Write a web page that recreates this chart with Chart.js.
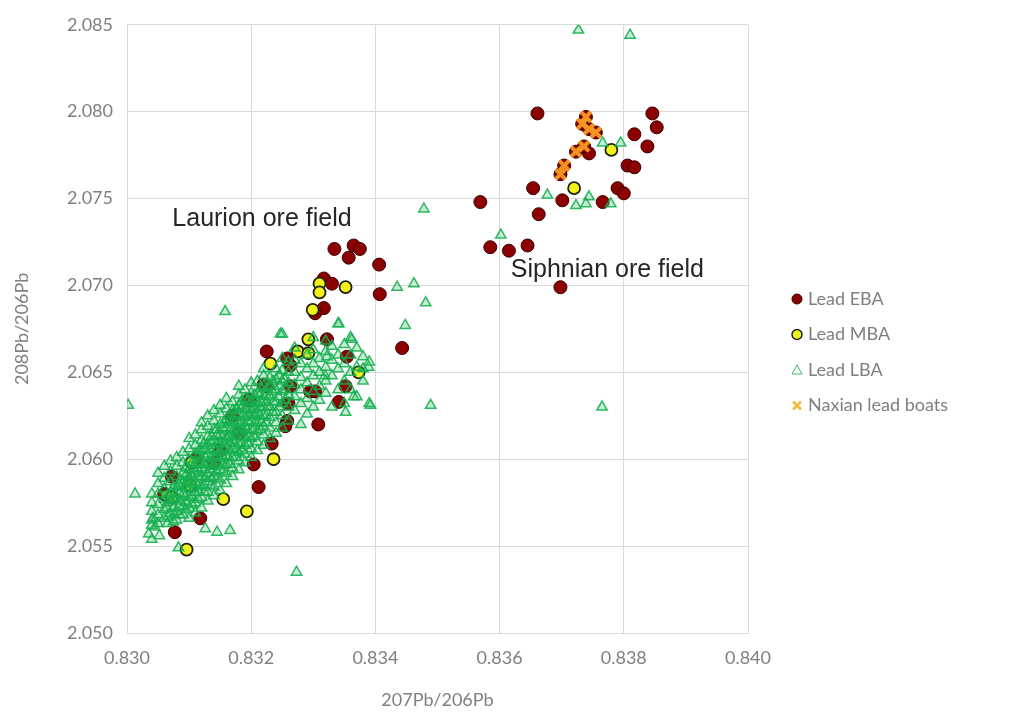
<!DOCTYPE html>
<html>
<head>
<meta charset="utf-8">
<script src="https://cdn.jsdelivr.net/npm/chart.js@4.4.1/dist/chart.umd.min.js"></script>
<style>
  html, body { margin: 0; padding: 0; background: #fff; }
</style>
</head>
<body>
<canvas id="myChart" width="1018" height="720"></canvas>
<script>
// series names (legend order)
const seriesNames = ['Lead EBA', 'Lead MBA', 'Lead LBA', 'Naxian lead boats'];

// axis ticks
const xTicks = [0.830, 0.832, 0.834, 0.836, 0.838, 0.840];
const yTicks = [2.050, 2.055, 2.060, 2.065, 2.070, 2.075, 2.080, 2.085];

// [207Pb/206Pb, 208Pb/206Pb]
const leadEBA = [
  [0.83661,2.0799],[0.83846,2.0799],[0.83853,2.0791],[0.83817,2.0787],[0.83838,2.0780],
  [0.83806,2.0769],[0.83817,2.0768],[0.83790,2.0756],[0.83800,2.0753],[0.83766,2.0748],
  [0.83654,2.0756],[0.83701,2.0749],[0.83663,2.0741],[0.83569,2.0748],[0.83744,2.0776],
  [0.83585,2.0722],[0.83615,2.0720],[0.83645,2.0723],[0.83698,2.0699],
  [0.83739,2.0797],[0.83733,2.0793],[0.83744,2.0790],[0.83755,2.0788],[0.83723,2.0777],
  [0.83736,2.0780],[0.83704,2.0769],[0.83698,2.0764],
  [0.83334,2.0721],[0.83365,2.0723],[0.83375,2.0721],[0.83357,2.0716],[0.83406,2.0712],
  [0.83317,2.0704],[0.83330,2.0701],[0.83407,2.0695],[0.83317,2.0687],[0.83303,2.0684],
  [0.83322,2.0669],[0.83443,2.0664],[0.83225,2.0662],[0.83258,2.0658],[0.83263,2.0654],
  [0.83354,2.0659],[0.83352,2.0642],[0.83295,2.0639],[0.83303,2.0639],[0.83341,2.0633],
  [0.83263,2.0642],[0.83225,2.0642],[0.83260,2.0632],[0.83198,2.0634],[0.83308,2.0620],
  [0.83258,2.0622],[0.83255,2.0619],[0.83233,2.0609],[0.83212,2.0584],[0.83072,2.0590],
  [0.83077,2.0558],[0.83118,2.0566],[0.83204,2.0597],[0.83220,2.0643],[0.83196,2.0634],
  [0.83060,2.0580],[0.83150,2.0605],[0.83180,2.0615],[0.83140,2.0598],[0.83170,2.0625],
  [0.83110,2.0600]
];

const leadMBA = [
  [0.83780,2.0778],[0.83720,2.0756],[0.83310,2.0701],[0.83310,2.0696],[0.83352,2.0699],
  [0.83299,2.0686],[0.83292,2.0669],[0.83275,2.0662],[0.83292,2.0661],[0.83231,2.0655],
  [0.83373,2.0650],[0.83236,2.0600],[0.83193,2.0570],[0.83096,2.0548],[0.83104,2.0598],
  [0.83064,2.0579],[0.83072,2.0578],[0.83102,2.0585],[0.83155,2.0577]
];

const leadLBA = [
  // scattered
  [0.83002,2.0631],[0.83013,2.0580],[0.83158,2.0685],[0.83273,2.0535],[0.83765,2.0630],
  [0.83727,2.0847],[0.83810,2.0844],[0.83478,2.0744],[0.83602,2.0729],[0.83677,2.0752],
  [0.83723,2.0746],[0.83739,2.0747],[0.83744,2.0751],[0.83779,2.0747],[0.83766,2.0782],
  [0.83795,2.0782],[0.83435,2.0699],[0.83462,2.0701],[0.83448,2.0677],[0.83481,2.0690],
  [0.83489,2.0631],[0.83341,2.0678],[0.83247,2.0672],[0.83362,2.0669],[0.83389,2.0653],
  [0.83392,2.0631],[0.83352,2.0627],[0.83319,2.0648],[0.83322,2.0659],[0.83365,2.0636],
  [0.83083,2.0549],[0.83166,2.0559],[0.83145,2.0558],[0.83126,2.0560],[0.83045,2.0561],
  [0.83042,2.0566],[0.83035,2.0557],[0.83040,2.0554],[0.83052,2.0556],
  // dense Laurion band
  [0.8304,2.0565],[0.8304,2.0570],[0.8304,2.0575],[0.8304,2.0562],[0.8304,2.0580],
  [0.8305,2.0568],[0.8305,2.0574],[0.8305,2.0580],[0.8305,2.0586],[0.8305,2.0563],[0.8305,2.0592],
  [0.8306,2.0571],[0.8306,2.0577],[0.8306,2.0583],[0.8306,2.0589],[0.8306,2.0596],[0.8306,2.0566],
  [0.8307,2.0569],[0.8307,2.0576],[0.8307,2.0581],[0.8307,2.0587],[0.8307,2.0593],[0.8307,2.0599],
  [0.8308,2.0570],[0.8308,2.0578],[0.8308,2.0584],[0.8308,2.0590],[0.8308,2.0596],[0.8308,2.0601],[0.8308,2.0565],
  [0.8309,2.0573],[0.8309,2.0580],[0.8309,2.0586],[0.8309,2.0592],[0.8309,2.0598],[0.8309,2.0604],[0.8309,2.0568],
  [0.8310,2.0572],[0.8310,2.0578],[0.8310,2.0583],[0.8310,2.0589],[0.8310,2.0594],[0.8310,2.0600],[0.8310,2.0606],[0.8310,2.0612],[0.8310,2.0566],
  [0.8311,2.0575],[0.8311,2.0581],[0.8311,2.0587],[0.8311,2.0592],[0.8311,2.0597],[0.8311,2.0603],[0.8311,2.0608],[0.8311,2.0614],[0.8311,2.0569],
  [0.8312,2.0578],[0.8312,2.0584],[0.8312,2.0590],[0.8312,2.0595],[0.8312,2.0600],[0.8312,2.0605],[0.8312,2.0611],[0.8312,2.0617],[0.8312,2.0572],[0.8312,2.0621],
  [0.8313,2.0581],[0.8313,2.0587],[0.8313,2.0592],[0.8313,2.0598],[0.8313,2.0603],[0.8313,2.0608],[0.8313,2.0613],[0.8313,2.0619],[0.8313,2.0625],[0.8313,2.0576],
  [0.8314,2.0584],[0.8314,2.0590],[0.8314,2.0596],[0.8314,2.0601],[0.8314,2.0606],[0.8314,2.0611],[0.8314,2.0617],[0.8314,2.0622],[0.8314,2.0628],[0.8314,2.0579],
  [0.8315,2.0588],[0.8315,2.0594],[0.8315,2.0599],[0.8315,2.0604],[0.8315,2.0609],[0.8315,2.0614],[0.8315,2.0620],[0.8315,2.0626],[0.8315,2.0631],[0.8315,2.0582],
  [0.8316,2.0592],[0.8316,2.0597],[0.8316,2.0602],[0.8316,2.0607],[0.8316,2.0612],[0.8316,2.0618],[0.8316,2.0623],[0.8316,2.0629],[0.8316,2.0635],[0.8316,2.0586],
  [0.8317,2.0595],[0.8317,2.0601],[0.8317,2.0606],[0.8317,2.0611],[0.8317,2.0616],[0.8317,2.0622],[0.8317,2.0628],[0.8317,2.0633],[0.8317,2.0590],
  [0.8318,2.0599],[0.8318,2.0604],[0.8318,2.0609],[0.8318,2.0615],[0.8318,2.0620],[0.8318,2.0626],[0.8318,2.0631],[0.8318,2.0637],[0.8318,2.0594],[0.8318,2.0642],
  [0.8319,2.0603],[0.8319,2.0608],[0.8319,2.0613],[0.8319,2.0619],[0.8319,2.0624],[0.8319,2.0629],[0.8319,2.0635],[0.8319,2.0640],[0.8319,2.0598],
  [0.8320,2.0606],[0.8320,2.0612],[0.8320,2.0617],[0.8320,2.0622],[0.8320,2.0628],[0.8320,2.0633],[0.8320,2.0638],[0.8320,2.0644],[0.8320,2.0601],
  [0.8321,2.0610],[0.8321,2.0616],[0.8321,2.0621],[0.8321,2.0627],[0.8321,2.0632],[0.8321,2.0638],[0.8321,2.0645],[0.8321,2.0605],
  [0.8322,2.0614],[0.8322,2.0619],[0.8322,2.0625],[0.8322,2.0630],[0.8322,2.0636],[0.8322,2.0642],[0.8322,2.0648],[0.8322,2.0608],[0.8322,2.0652],
  [0.8323,2.0618],[0.8323,2.0624],[0.8323,2.0630],[0.8323,2.0636],[0.8323,2.0642],[0.8323,2.0647],[0.8323,2.0612],
  [0.8324,2.0621],[0.8324,2.0627],[0.8324,2.0633],[0.8324,2.0640],[0.8324,2.0646],[0.8324,2.0652],[0.8324,2.0615],
  [0.8325,2.0625],[0.8325,2.0632],[0.8325,2.0639],[0.8325,2.0645],[0.8325,2.0651],[0.8325,2.0658],[0.8325,2.0672],[0.8325,2.0618],
  [0.8326,2.0630],[0.8326,2.0637],[0.8326,2.0644],[0.8326,2.0650],[0.8326,2.0656],[0.8326,2.0622],
  [0.8327,2.0628],[0.8327,2.0636],[0.8327,2.0643],[0.8327,2.0650],[0.8327,2.0657],[0.8327,2.0664],
  [0.8328,2.0632],[0.8328,2.0640],[0.8328,2.0647],[0.8328,2.0655],[0.8328,2.0620],
  [0.8329,2.0635],[0.8329,2.0644],[0.8329,2.0652],[0.8329,2.0660],[0.8329,2.0626],
  [0.8330,2.0639],[0.8330,2.0648],[0.8330,2.0655],[0.8330,2.0663],[0.8330,2.0630],[0.8330,2.0670],
  [0.8331,2.0642],[0.8331,2.0650],[0.8331,2.0658],[0.8331,2.0634],
  [0.8332,2.0645],[0.8332,2.0653],[0.8332,2.0662],[0.8332,2.0638],[0.8332,2.0668],
  [0.8333,2.0648],[0.8333,2.0657],[0.8333,2.0630],[0.8333,2.0665],
  [0.8334,2.0652],[0.8334,2.0660],[0.8334,2.0640],[0.8334,2.0678],
  [0.8335,2.0645],[0.8335,2.0655],[0.8335,2.0666],[0.8335,2.0632],
  [0.8336,2.0650],[0.8336,2.0660],[0.8336,2.0670],[0.8336,2.0640],
  [0.8337,2.0653],[0.8337,2.0664],[0.8337,2.0636],
  [0.8338,2.0652],[0.8338,2.0659],[0.8338,2.0645],
  [0.8339,2.0632],[0.8339,2.0656],
  // packed core of the band
  [0.83065,2.0563],[0.83066,2.0567],[0.83064,2.0572],[0.83065,2.0575],[0.83067,2.0579],
  [0.83075,2.0564],[0.83076,2.0568],[0.83074,2.0572],[0.83075,2.0577],[0.83076,2.0580],[0.83075,2.0584],
  [0.83085,2.0568],[0.83084,2.0573],[0.83086,2.0576],[0.83085,2.0580],[0.83084,2.0585],[0.83086,2.0588],
  [0.83095,2.0571],[0.83096,2.0575],[0.83094,2.0579],[0.83095,2.0584],[0.83096,2.0587],[0.83095,2.0591],[0.83094,2.0595],
  [0.83105,2.0574],[0.83104,2.0578],[0.83106,2.0583],[0.83105,2.0586],[0.83104,2.0590],[0.83106,2.0595],[0.83105,2.0598],
  [0.83115,2.0577],[0.83116,2.0581],[0.83114,2.0585],[0.83115,2.0590],[0.83116,2.0593],[0.83114,2.0597],[0.83115,2.0602],[0.83116,2.0605],
  [0.83125,2.0581],[0.83124,2.0585],[0.83126,2.0589],[0.83125,2.0594],[0.83124,2.0597],[0.83126,2.0601],[0.83125,2.0606],[0.83124,2.0609],
  [0.83135,2.0585],[0.83136,2.0589],[0.83134,2.0594],[0.83135,2.0597],[0.83136,2.0601],[0.83134,2.0605],[0.83135,2.0610],[0.83136,2.0613],
  [0.83145,2.0589],[0.83144,2.0593],[0.83146,2.0597],[0.83145,2.0602],[0.83144,2.0605],[0.83146,2.0609],[0.83145,2.0614],[0.83144,2.0617],
  [0.83155,2.0593],[0.83156,2.0597],[0.83154,2.0601],[0.83155,2.0606],[0.83156,2.0609],[0.83154,2.0613],[0.83155,2.0618],[0.83156,2.0621],
  [0.83165,2.0597],[0.83164,2.0601],[0.83166,2.0605],[0.83165,2.0610],[0.83164,2.0613],[0.83166,2.0617],[0.83165,2.0622],[0.83164,2.0625],
  [0.83175,2.0601],[0.83176,2.0605],[0.83174,2.0609],[0.83175,2.0614],[0.83176,2.0617],[0.83174,2.0621],[0.83175,2.0626],[0.83176,2.0629],
  [0.83185,2.0605],[0.83184,2.0609],[0.83186,2.0613],[0.83185,2.0618],[0.83184,2.0621],[0.83186,2.0625],[0.83185,2.0630],[0.83184,2.0633],
  [0.83195,2.0609],[0.83196,2.0613],[0.83194,2.0617],[0.83195,2.0622],[0.83196,2.0625],[0.83194,2.0629],[0.83195,2.0634],
  [0.83205,2.0613],[0.83204,2.0617],[0.83206,2.0621],[0.83205,2.0626],[0.83204,2.0629],[0.83206,2.0633],[0.83205,2.0637],
  [0.83215,2.0617],[0.83216,2.0621],[0.83214,2.0625],[0.83215,2.0630],[0.83216,2.0633],[0.83214,2.0637],[0.83215,2.0641],
  [0.83225,2.0621],[0.83224,2.0625],[0.83226,2.0630],[0.83225,2.0633],[0.83224,2.0637],[0.83226,2.0641],
  [0.83235,2.0627],[0.83236,2.0633],[0.83234,2.0639],[0.83235,2.0645],
  [0.83245,2.0630],[0.83244,2.0636],[0.83246,2.0642],[0.83245,2.0648],
  [0.83255,2.0634],[0.83256,2.0640],[0.83254,2.0646]
];

const naxianBoats = [
  [0.83739,2.0797],[0.83733,2.0793],[0.83744,2.0790],[0.83755,2.0788],[0.83723,2.0777],
  [0.83736,2.0780],[0.83704,2.0769],[0.83698,2.0764]
];

// text labels on the plot
const fieldLabels = ['Laurion ore field', 'Siphnian ore field'];
const fieldLabelAt = [[0.83073, 2.0738], [0.83618, 2.0709]];

const toXY = arr => arr.map(p => ({ x: p[0], y: p[1] }));

const ctx = document.getElementById('myChart');

// legend + annotations drawn by hand
const sidePlugin = {
  id: 'sidePlugin',
  afterDraw(chart) {
    const c = chart.ctx;
    const xs = chart.scales.x, ys = chart.scales.y;
    c.save();

    // ore field labels
    c.font = '25px "Liberation Sans", Arial, sans-serif';
    c.fillStyle = '#262626';
    c.textBaseline = 'middle';
    c.textAlign = 'left';
    fieldLabels.forEach((t, i) => {
      c.fillText(t, xs.getPixelForValue(fieldLabelAt[i][0]), ys.getPixelForValue(fieldLabelAt[i][1]));
    });

    // legend
    c.font = '18px Lato, sans-serif';
    seriesNames.forEach((name, i) => {
      const y = 299 + i * 35.5;
      const mx = 797;
      c.lineWidth = 1;
      if (i === 0) {
        c.beginPath(); c.arc(mx, y, 5, 0, Math.PI * 2);
        c.fillStyle = '#8b0000'; c.fill(); c.strokeStyle = '#3a0000'; c.stroke();
      } else if (i === 1) {
        c.beginPath(); c.arc(mx, y, 5, 0, Math.PI * 2);
        c.fillStyle = '#f2f21a'; c.fill(); c.lineWidth = 1.5; c.strokeStyle = '#222'; c.stroke();
      } else if (i === 2) {
        c.beginPath(); c.moveTo(mx, y - 5); c.lineTo(mx + 5, y + 4); c.lineTo(mx - 5, y + 4); c.closePath();
        c.strokeStyle = '#3cb371'; c.stroke();
      } else {
        c.beginPath(); c.moveTo(mx - 4, y - 4); c.lineTo(mx + 4, y + 4); c.moveTo(mx + 4, y - 4); c.lineTo(mx - 4, y + 4);
        c.lineWidth = 2.5; c.strokeStyle = '#f5b942'; c.stroke();
      }
      c.fillStyle = '#7f7f7f';
      c.fillText(name, 808, y);
    });
    c.restore();
  }
};

new Chart(ctx, {
  type: 'scatter',
  data: {
    datasets: [
      {
        label: seriesNames[3],
        data: toXY(naxianBoats),
        pointStyle: 'crossRot',
        pointRadius: 7,
        borderWidth: 4,
        borderColor: 'rgba(245,155,35,0.95)',
        order: 0
      },
      {
        label: seriesNames[2],
        data: toXY(leadLBA),
        pointStyle: 'triangle',
        pointRadius: 6,
        borderWidth: 1.5,
        borderColor: 'rgba(20,175,80,0.88)',
        backgroundColor: 'rgba(30,180,80,0.25)',
        order: 1
      },
      {
        label: seriesNames[1],
        data: toXY(leadMBA),
        pointStyle: 'circle',
        pointRadius: 6,
        borderWidth: 1.8,
        borderColor: '#1f1f10',
        backgroundColor: '#f2f21a',
        order: 2
      },
      {
        label: seriesNames[0],
        data: toXY(leadEBA),
        pointStyle: 'circle',
        pointRadius: 6.5,
        borderWidth: 1,
        borderColor: '#3a0000',
        backgroundColor: '#8b0000',
        order: 3
      }
    ]
  },
  options: {
    responsive: false,
    animation: false,
    layout: { padding: { top: 17, right: 270, left: 0, bottom: 0 } },
    plugins: { legend: { display: false }, tooltip: { enabled: false } },
    scales: {
      x: {
        type: 'linear',
        min: xTicks[0],
        max: xTicks[xTicks.length - 1],
        afterBuildTicks: s => { s.ticks = xTicks.map(v => ({ value: v })); },
        afterFit: s => { s.height = 87; },
        ticks: {
          padding: 14,
          color: '#7f7f7f',
          font: { family: 'Lato', size: 18 },
          callback: v => v.toFixed(3)
        },
        grid: { color: '#d9d9d9', drawTicks: false },
        border: { color: '#d9d9d9' },
        title: {
          display: true,
          text: '207Pb/206Pb',
          color: '#7f7f7f',
          font: { family: 'Lato', size: 18 },
          padding: { top: 0, bottom: 9 }
        }
      },
      y: {
        type: 'linear',
        min: yTicks[0],
        max: yTicks[yTicks.length - 1],
        afterBuildTicks: s => { s.ticks = yTicks.map(v => ({ value: v })); },
        afterFit: s => { s.width = 127; },
        ticks: {
          padding: 14,
          color: '#7f7f7f',
          font: { family: 'Lato', size: 18 },
          callback: v => v.toFixed(3)
        },
        grid: { color: '#d9d9d9', drawTicks: false },
        border: { color: '#d9d9d9' },
        title: {
          display: true,
          text: '208Pb/206Pb',
          color: '#7f7f7f',
          font: { family: 'Lato', size: 18 },
          padding: { top: 11, bottom: 0 }
        }
      }
    }
  },
  plugins: [sidePlugin]
});
</script>
</body>
</html>
